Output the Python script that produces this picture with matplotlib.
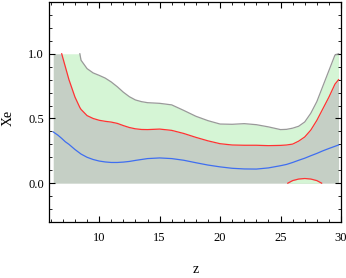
import numpy as np
import matplotlib
matplotlib.use("Agg")
import matplotlib.pyplot as plt
from matplotlib.ticker import MultipleLocator

plt.rcParams['font.family'] = ['Liberation Serif', 'DejaVu Serif']
plt.rcParams['mathtext.fontset'] = 'stix'

z = [6.2, 6.6, 6.9, 7.2, 7.5, 8.0, 8.4, 8.5, 9.0, 9.5, 10, 10.5, 11, 11.5, 12, 12.5,
     13, 13.5, 14, 15, 16, 17, 18, 19, 20, 21, 22, 23, 24, 25, 25.5, 26, 26.5,
     27, 27.5, 28, 28.5, 29, 29.5, 29.8]
outer = [1.0, 1.0, 1.0, 1.0, 1.0, 1.0, 1.0, 0.95, 0.885, 0.852, 0.833, 0.812, 0.782, 0.745,
         0.703, 0.668, 0.643, 0.63, 0.622, 0.617, 0.605, 0.562, 0.517, 0.483, 0.457, 0.455,
         0.46, 0.452, 0.435, 0.414, 0.416, 0.425, 0.44, 0.473, 0.54, 0.63, 0.75, 0.87,
         0.99, 1.0]
inner = [1.0, 1.0, 1.0, 0.90, 0.80, 0.665, 0.585, 0.57, 0.522, 0.50, 0.486, 0.478, 0.472,
         0.462, 0.445, 0.43, 0.42, 0.415, 0.414, 0.418, 0.408, 0.384, 0.354, 0.327, 0.305,
         0.295, 0.293, 0.293, 0.29, 0.292, 0.295, 0.302, 0.325, 0.357, 0.41, 0.485, 0.575,
         0.665, 0.765, 0.80]
best = [0.396, 0.37, 0.346, 0.32, 0.30, 0.26, 0.232, 0.225, 0.20, 0.183, 0.171, 0.164, 0.16,
        0.16, 0.163, 0.168, 0.176, 0.183, 0.19, 0.195, 0.19, 0.177, 0.158, 0.14, 0.126,
        0.115, 0.11, 0.109, 0.118, 0.135, 0.145, 0.16, 0.177, 0.193, 0.212, 0.23, 0.25,
        0.268, 0.285, 0.295]
z_blob = [25.6, 26.0, 26.5, 27.0, 27.5, 28.0, 28.4]
blob = [0.0, 0.02, 0.032, 0.036, 0.032, 0.02, 0.0]

z = np.array(z); outer = np.array(outer); inner = np.array(inner); best = np.array(best)
z_blob = np.array(z_blob); blob = np.array(blob)

def mask_cap(v):
    v = np.asarray(v, float)
    below = v < 1.0
    keep = below.copy()
    keep[1:] |= below[:-1]
    keep[:-1] |= below[1:]
    return np.where(keep, v, np.nan)

fig = plt.figure(figsize=(3.46, 2.78), dpi=100)
ax = fig.add_axes([49/346, 1 - 222/278, (341-49)/346, (222-2)/278])

green = '#d5f5d5'
grey = '#c5cfc5'
ax.fill_between(z, inner, outer, color=green, lw=0)
ax.fill_between(z, 0, inner, color=grey, lw=0)
ax.fill_between(z_blob, 0, blob, color=green, lw=0)

ax.plot(z, mask_cap(outer), color='#999999', lw=0.9)
ax.plot(z, mask_cap(inner), color='#ff3333', lw=0.9)
ax.plot(z_blob, blob, color='#ff3333', lw=0.9)
ax.plot(z, best, color='#3f6ef0', lw=0.9)

ax.set_xlim(5.85, 30)
ax.set_ylim(-0.3, 1.4)
ax.xaxis.set_major_locator(MultipleLocator(5))
ax.xaxis.set_minor_locator(MultipleLocator(1))
ax.yaxis.set_major_locator(MultipleLocator(0.5))
ax.yaxis.set_minor_locator(MultipleLocator(0.1))
ax.yaxis.set_major_formatter(matplotlib.ticker.FormatStrFormatter('%.1f'))
ax.tick_params(which='both', direction='in', top=True, right=True, labelsize=9)
ax.tick_params(which='major', length=4, width=0.8)
ax.tick_params(which='minor', length=2, width=0.6)
ax.tick_params(axis='x', pad=7)
for s in ax.spines.values():
    s.set_linewidth(0.9)

ax.set_xlabel('z', fontsize=10)
ax.set_ylabel('Xe', fontsize=10)
ax.xaxis.set_label_coords((196-49)/292, -(263-222)/220)
ax.yaxis.set_label_coords(-(49-15)/292, (222-118)/220)

fig.savefig('out.png', dpi=100)
